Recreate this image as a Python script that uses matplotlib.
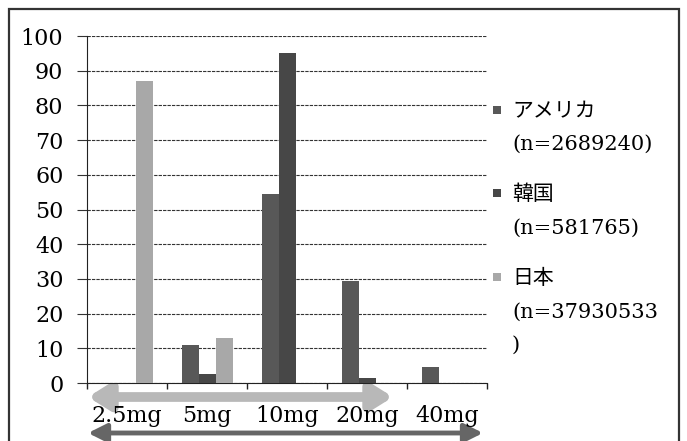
import numpy as np
import matplotlib
matplotlib.use('Agg')
import matplotlib.pyplot as plt
from matplotlib.patches import Rectangle, FancyArrowPatch

plt.rcParams['font.family'] = ['DejaVu Serif', 'Noto Sans CJK JP']

# data
doses = ['2.5mg', '5mg', '10mg', '20mg', '40mg']
series = ['アメリカ\n(n=2689240)', '韓国\n(n=581765)', '日本\n(n=37930533\n)']
america = [0, 11, 54.5, 29.5, 4.5]
korea = [0, 2.5, 95, 1.5, 0]
japan = [87, 13, 0, 0, 0]
colors = ['#585858', '#474747', '#a8a8a8']

W, H = 687, 441
fig = plt.figure(figsize=(W / 100, H / 100), dpi=100)


def px(x, y):
    # pixel (from top-left) -> figure fraction
    return x / W, 1 - y / H


ax = fig.add_axes([87 / W, 1 - 383 / H, 400 / W, (383 - 36) / H])

x = np.arange(len(doses))
w = 0.2125
for i, vals in enumerate([america, korea, japan]):
    ax.bar(x + (i - 1) * w, vals, width=w, color=colors[i], zorder=3)

ax.set_xlim(-0.5, len(doses) - 0.5)
ax.set_ylim(0, 100)
ax.set_yticks(np.arange(0, 101, 10))
ax.set_xticks(x)
ax.set_xticklabels(doses)
ax.set_xticks(np.arange(-0.5, len(doses), 1), minor=True)
ax.tick_params(axis='x', which='major', length=0, pad=16, labelsize=16)
ax.tick_params(axis='x', which='minor', length=4, width=1, color='#222')
ax.tick_params(axis='y', length=7, width=0.8, color='#333', pad=10, labelsize=16)
ax.yaxis.grid(True, color='#333', linestyle=(0, (3, 1)), linewidth=0.8, zorder=0)
for s in ['top', 'right']:
    ax.spines[s].set_visible(False)
ax.spines['left'].set_color('#222')
ax.spines['bottom'].set_color('#222')
ax.spines['bottom'].set_linestyle((0, (3, 1)))

# legend drawn by hand so the square sits on the first line
leg_y = [110, 193, 277]
for lab, c, yy in zip(series, colors, leg_y):
    fx, fy = px(493, yy + 4)
    fig.patches.append(Rectangle((fx, fy), 8 / W, 8 / H, transform=fig.transFigure,
                                 facecolor=c, edgecolor='none'))
    tx, ty = px(512, yy - 8)
    fig.text(tx, ty, lab, fontsize=15, va='top', ha='left', linespacing=1.95)

# double-headed arrows under the axis (behind the tick labels)
for (x0, x1, yy, lw, c, hl, hw) in [(88, 393, 397, 7, '#b8b8b8', 12, 7.5),
                                    (88, 483, 433, 3.5, '#666666', 11, 5.5)]:
    a = FancyArrowPatch(px(x0, yy), px(x1, yy), transform=fig.transFigure,
                        arrowstyle=f'<|-|>,head_length={hl},head_width={hw}',
                        mutation_scale=1, linewidth=lw, color=c,
                        shrinkA=0, shrinkB=0, zorder=-1)
    fig.patches.append(a)

# outer chart frame
fx, fy = px(9, 460)
fig.patches.append(Rectangle((fx, fy), 670 / W, 451 / H, transform=fig.transFigure,
                             facecolor='none', edgecolor='#333', linewidth=1.6))

fig.savefig('out.png', dpi=100)
